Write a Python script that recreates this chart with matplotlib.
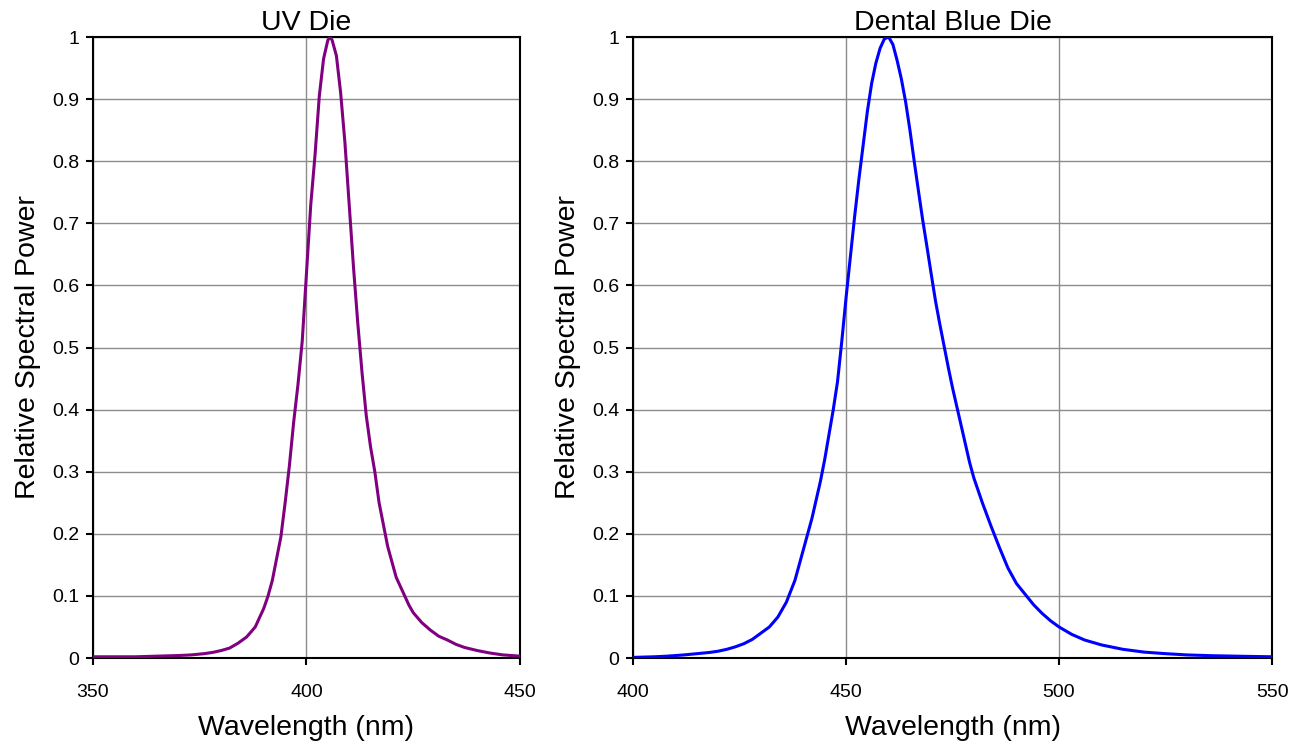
import matplotlib.pyplot as plt
from matplotlib.ticker import FuncFormatter

plt.rcParams['font.family'] = ['Liberation Sans', 'DejaVu Sans']

# UV die spectrum
uv_nm = [350, 360, 365, 370, 373, 376, 378, 380, 382, 384, 386, 388, 389, 390,
         391, 392, 393, 394, 395, 396, 397, 398, 399, 400, 401, 402, 403, 404,
         405, 405.5, 406, 407, 408, 409, 410, 411, 412, 413, 414, 415, 416, 417,
         418, 419, 420, 421, 422, 423, 424, 425, 427, 429, 431, 433, 435, 437,
         440, 443, 446, 450]
uv_power = [0.002, 0.002, 0.003, 0.004, 0.005, 0.007, 0.009, 0.012, 0.016, 0.024,
            0.034, 0.05, 0.065, 0.08, 0.10, 0.125, 0.16, 0.195, 0.25, 0.31, 0.38,
            0.44, 0.51, 0.62, 0.73, 0.81, 0.905, 0.965, 0.995, 1.0, 0.995, 0.97,
            0.91, 0.83, 0.73, 0.63, 0.54, 0.46, 0.39, 0.34, 0.30, 0.25, 0.215,
            0.18, 0.155, 0.13, 0.115, 0.10, 0.085, 0.073, 0.057, 0.045, 0.035,
            0.029, 0.022, 0.017, 0.012, 0.008, 0.005, 0.003]

# Dental blue die spectrum
blue_nm = [400, 405, 408, 412, 415, 418, 420, 422, 424, 426, 428, 430, 432, 434,
           436, 438, 440, 442, 444, 445, 446, 447, 448, 449, 450, 451, 452, 453,
           454, 455, 456, 457, 458, 459, 460, 461, 462, 463, 464, 465, 466, 467,
           468, 469, 470, 471, 472, 473, 474, 475, 476, 477, 478, 479, 480, 482,
           484, 486, 488, 490, 492, 494, 496, 498, 500, 503, 506, 510, 515, 520,
           525, 530, 536, 543, 550]
blue_power = [0.001, 0.002, 0.003, 0.005, 0.007, 0.009, 0.011, 0.014, 0.018, 0.023,
              0.030, 0.040, 0.050, 0.066, 0.090, 0.125, 0.175, 0.225, 0.285, 0.32,
              0.36, 0.40, 0.445, 0.51, 0.58, 0.645, 0.71, 0.77, 0.825, 0.88, 0.925,
              0.958, 0.982, 0.997, 1.0, 0.988, 0.962, 0.932, 0.895, 0.85, 0.80,
              0.752, 0.705, 0.662, 0.618, 0.575, 0.538, 0.503, 0.468, 0.435, 0.405,
              0.375, 0.345, 0.315, 0.29, 0.25, 0.213, 0.178, 0.145, 0.12, 0.103,
              0.086, 0.072, 0.06, 0.05, 0.038, 0.029, 0.021, 0.014, 0.0095, 0.007,
              0.005, 0.0037, 0.0028, 0.002]

y_ticks = [0, 0.1, 0.2, 0.3, 0.4, 0.5, 0.6, 0.7, 0.8, 0.9, 1]

panels = [
    ("UV Die", uv_nm, uv_power, "#800080", [350, 400, 450],
     [0.0714, 0.1203, 0.3280, 0.8302]),
    ("Dental Blue Die", blue_nm, blue_power, "#0000FF", [400, 450, 500, 550],
     [0.4862, 0.1203, 0.4908, 0.8302]),
]

fig = plt.figure(figsize=(13.02, 7.48), dpi=100)

for title, x, y, color, xticks, rect in panels:
    ax = fig.add_axes(rect)
    ax.plot(x, y, color=color, linewidth=2.2, zorder=3)
    ax.set_xlim(xticks[0], xticks[-1])
    ax.set_ylim(0, 1)
    ax.set_xticks(xticks)
    ax.set_yticks(y_ticks)
    ax.yaxis.set_major_formatter(FuncFormatter(lambda v, p: f"{v:g}"))
    ax.grid(True, color="#8c8c8c", linewidth=1.0, zorder=0)
    ax.set_axisbelow(True)
    for s in ax.spines.values():
        s.set_color("black")
        s.set_linewidth(1.5)
    ax.tick_params(axis="x", direction="out", length=5, width=1.5,
                   labelsize=14, pad=14)
    ax.tick_params(axis="y", direction="out", length=5, width=1.5,
                   labelsize=14, pad=5)
    ax.set_title(title, fontsize=20.5, pad=5)
    ax.set_xlabel("Wavelength (nm)", fontsize=20.5, labelpad=10)
    ax.set_ylabel("Relative Spectral Power", fontsize=20.5, labelpad=8)

fig.savefig("out.png", dpi=100)
